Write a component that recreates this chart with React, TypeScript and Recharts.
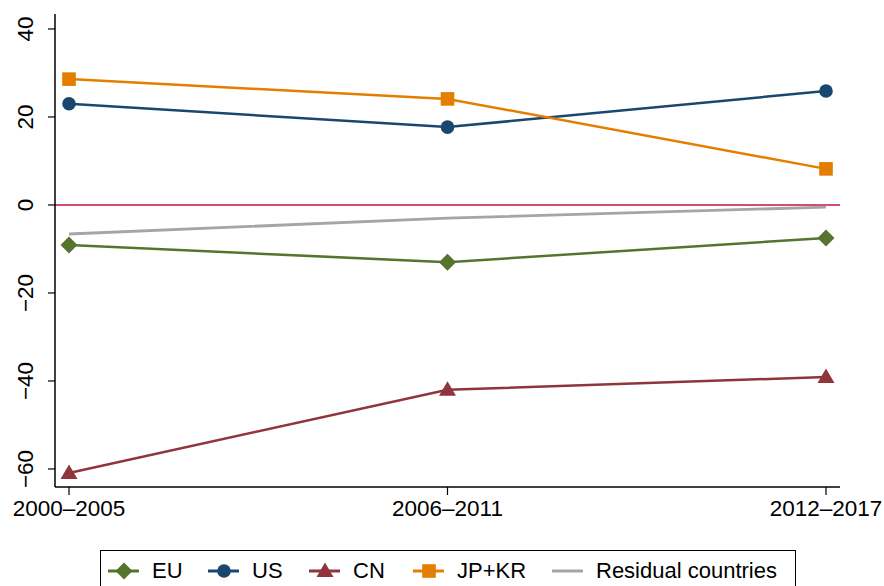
import React from 'react';
import { LineChart, Line, XAxis, YAxis, ReferenceLine } from 'recharts';

const periods = ['2000–2005', '2006–2011', '2012–2017'];
const euValues = [-9.1, -13.0, -7.5];
const usValues = [23.0, 17.7, 25.9];
const cnValues = [-60.9, -42.0, -39.1];
const jpkrValues = [28.6, 24.1, 8.2];
const residualValues = [-6.6, -3.0, -0.5];
const yTicks = [-60, -40, -20, 0, 20, 40];

const data = periods.map((period, i) => ({
  period,
  eu: euValues[i],
  us: usValues[i],
  cn: cnValues[i],
  jpkr: jpkrValues[i],
  residual: residualValues[i],
}));

const FONT = '"Liberation Sans", Arial, Helvetica, sans-serif';
const GREEN = '#55752f';
const NAVY = '#1a476f';
const MAROON = '#90353b';
const ORANGE = '#e37e00';
const GRAY = '#a5a5a5';

const Diamond = ({ cx, cy, fill }: any) => (
  <polygon points={`${cx},${cy - 8.5} ${cx + 8.5},${cy} ${cx},${cy + 8.5} ${cx - 8.5},${cy}`} fill={fill} />
);
const Circle = ({ cx, cy, fill }: any) => <circle cx={cx} cy={cy} r={6.8} fill={fill} />;
const Triangle = ({ cx, cy, fill }: any) => (
  <polygon points={`${cx},${cy - 8.5} ${cx + 8.5},${cy + 6} ${cx - 8.5},${cy + 6}`} fill={fill} />
);
const Square = ({ cx, cy, fill }: any) => <rect x={cx - 6.8} y={cy - 6.8} width={13.6} height={13.6} fill={fill} />;

const makeDot = (Shape: any, fill: string) => (props: any) => (
  <Shape key={`${fill}-${props.index}`} cx={props.cx} cy={props.cy} fill={fill} />
);

const YTick = ({ x, y, payload }: any) => (
  <text
    x={x - 20}
    y={y}
    transform={`rotate(-90 ${x - 20} ${y})`}
    textAnchor="middle"
    dominantBaseline="central"
    fontSize={22.5}
    fontFamily={FONT}
    fill="#000"
  >
    {payload.value < 0 ? `\u2212${Math.abs(payload.value)}` : payload.value}
  </text>
);

const legendItems = [
  { label: 'EU', color: GREEN, Shape: Diamond, left: 7 },
  { label: 'US', color: NAVY, Shape: Circle, left: 107 },
  { label: 'CN', color: MAROON, Shape: Triangle, left: 208 },
  { label: 'JP+KR', color: ORANGE, Shape: Square, left: 312 },
  { label: 'Residual countries', color: GRAY, Shape: null, left: 451 },
];

const Legend = () => (
  <div
    style={{
      position: 'absolute',
      left: 100,
      top: 550,
      width: 696,
      height: 50,
      border: '1px solid #000',
      boxSizing: 'border-box',
      fontFamily: FONT,
      fontSize: 22,
    }}
  >
    {legendItems.map((it) => (
      <div key={it.label} style={{ position: 'absolute', left: it.left, top: 8, display: 'flex', alignItems: 'center' }}>
        <svg width={32} height={24}>
          <line x1={0} y1={12} x2={31} y2={12} stroke={it.color} strokeWidth={3} />
          {it.Shape ? <it.Shape cx={16} cy={12} fill={it.color} /> : null}
        </svg>
        <span style={{ marginLeft: 12, lineHeight: '24px' }}>{it.label}</span>
      </div>
    ))}
  </div>
);

export default function App() {
  return (
    <div style={{ position: 'absolute', left: 0, top: 0, width: 884, height: 586, background: '#fff', overflow: 'hidden' }}>
      <LineChart width={884} height={586} data={data} margin={{ top: 14, right: 44, left: 0, bottom: 59 }}>
        <XAxis
          dataKey="period"
          padding={{ left: 14, right: 14 }}
          height={40}
          axisLine={{ stroke: '#000', strokeWidth: 1.5 }}
          tickLine={{ stroke: '#000', strokeWidth: 1.2 }}
          tickSize={8}
          tickMargin={5}
          tick={{ fill: '#000', fontSize: 22.5, fontFamily: FONT }}
          interval={0}
        />
        <YAxis
          type="number"
          domain={[-64.1, 43.4]}
          ticks={yTicks}
          width={55}
          axisLine={{ stroke: '#000', strokeWidth: 1.5 }}
          tickLine={{ stroke: '#000', strokeWidth: 1.2 }}
          tickSize={7}
          tick={<YTick />}
          allowDataOverflow
        />
        <ReferenceLine y={0} stroke="#c4143f" strokeWidth={1.5} />
        <Line dataKey="residual" stroke={GRAY} strokeWidth={2.8} dot={false} isAnimationActive={false} />
        <Line dataKey="eu" stroke={GREEN} strokeWidth={2.5} dot={makeDot(Diamond, GREEN)} activeDot={false} isAnimationActive={false} />
        <Line dataKey="us" stroke={NAVY} strokeWidth={2.5} dot={makeDot(Circle, NAVY)} activeDot={false} isAnimationActive={false} />
        <Line dataKey="cn" stroke={MAROON} strokeWidth={2.5} dot={makeDot(Triangle, MAROON)} activeDot={false} isAnimationActive={false} />
        <Line dataKey="jpkr" stroke={ORANGE} strokeWidth={2.5} dot={makeDot(Square, ORANGE)} activeDot={false} isAnimationActive={false} />
      </LineChart>
      <Legend />
    </div>
  );
}
